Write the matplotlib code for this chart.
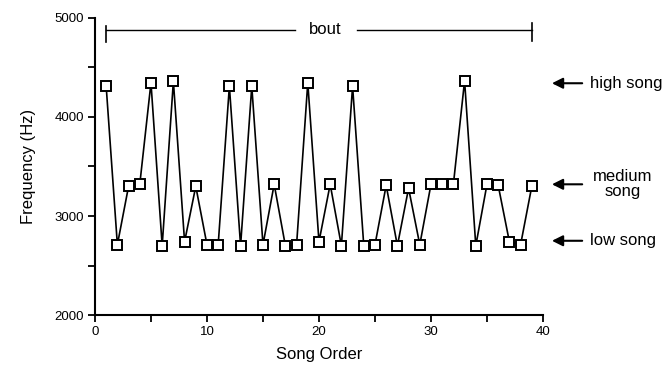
import matplotlib
matplotlib.use("Agg")
import matplotlib.pyplot as plt
from matplotlib.ticker import MultipleLocator

plt.rcParams['font.family'] = ['Liberation Sans', 'DejaVu Sans']

song_order = list(range(1, 40))
frequency = [4310, 2710, 3300, 3320, 4345, 2700, 4360, 2740, 3300, 2710,
             2710, 4310, 2700, 4310, 2710, 3320, 2700, 2710, 4345, 2740,
             3320, 2700, 4310, 2700, 2710, 3310, 2700, 3280, 2710, 3320,
             3320, 3320, 4365, 2700, 3320, 3310, 2740, 2710, 3300]

song_types = ["high song", "medium\nsong", "low song"]
song_levels = [4340, 3320, 2750]

fig = plt.figure(figsize=(6.66, 3.72), dpi=100)
ax = fig.add_axes([0.1426, 0.153, 0.6727, 0.799])

ax.plot(song_order, frequency, color='black', lw=1.2, marker='s', ms=7.5,
        mfc='white', mec='black', mew=1.4, clip_on=False, zorder=3)

ax.set_xlim(0, 40)
ax.set_ylim(2000, 5000)
ax.xaxis.set_major_locator(MultipleLocator(10))
ax.xaxis.set_minor_locator(MultipleLocator(5))
ax.yaxis.set_major_locator(MultipleLocator(1000))
ax.yaxis.set_minor_locator(MultipleLocator(500))
for s in ['top', 'right']:
    ax.spines[s].set_visible(False)
for s in ['left', 'bottom']:
    ax.spines[s].set_linewidth(1.5)
ax.tick_params(which='both', direction='out', length=5, width=1.3, labelsize=9.5, pad=3)
ax.set_xlabel("Song Order", fontsize=12, labelpad=6)
ax.set_ylabel("Frequency (Hz)", fontsize=12, labelpad=13)

# bout bracket
by = 4880
ax.plot([1, 17.9], [by, by], color='black', lw=1.0, clip_on=False)
ax.plot([23.4, 39], [by, by], color='black', lw=1.0, clip_on=False)
ax.plot([1, 1], [4760, 4920], color='black', lw=1.2, clip_on=False)
ax.plot([39, 39], [4770, 4950], color='black', lw=1.2, clip_on=False)
ax.text(20.6, by, "bout", ha='center', va='center', fontsize=12)

# song-type arrows
for label, lev in zip(song_types, song_levels):
    ax.annotate("", xy=(40.8, lev), xytext=(43.5, lev), xycoords='data',
                textcoords='data', annotation_clip=False,
                arrowprops=dict(arrowstyle='-|>', color='black', lw=1.5,
                                mutation_scale=16, shrinkA=0, shrinkB=0))
    if "\n" in label:
        ax.text(47.1, lev, label, ha='center', va='center', fontsize=12,
                linespacing=1.0, clip_on=False)
    else:
        ax.text(44.2, lev, label, ha='left', va='center', fontsize=12, clip_on=False)

fig.savefig("out.png", dpi=100)
